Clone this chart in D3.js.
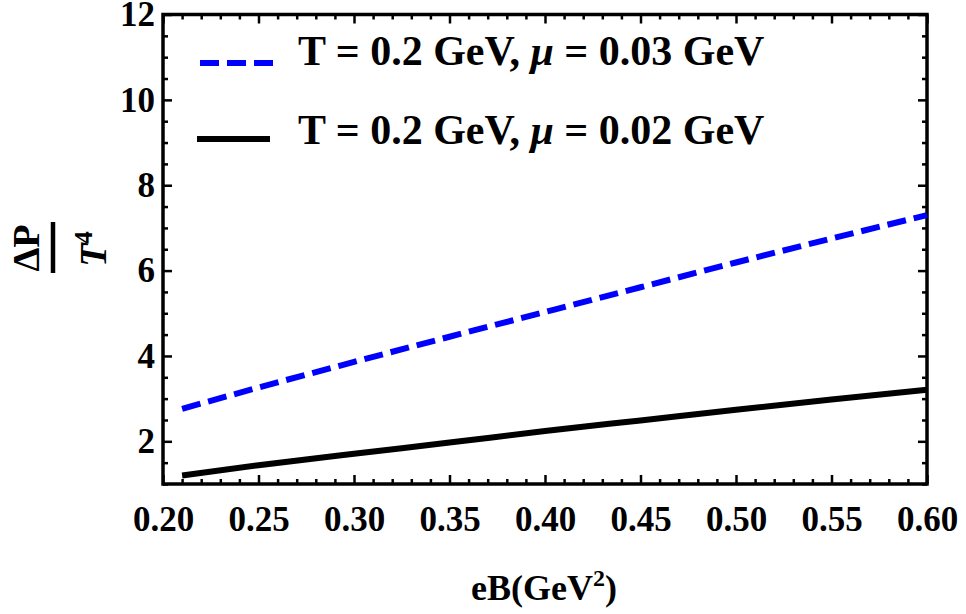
<!DOCTYPE html>
<html>
<head>
<meta charset="utf-8">
<script src="https://cdn.jsdelivr.net/npm/d3@7"></script>
<style>
  body { margin: 0; background: #fff; }
  svg { display: block; }
  text { font-family: 'Liberation Serif', 'Times New Roman', serif; font-weight: bold; fill: #000; }
</style>
</head>
<body>
<div id="chart"></div>
<script>
// eB values (GeV^2)
const eB = [0.21, 0.25, 0.30, 0.35, 0.40, 0.45, 0.50, 0.55, 0.60];
// ΔP / T^4, T = 0.2 GeV, mu = 0.03 GeV
const dpMu003 = [2.76, 3.26, 3.86, 4.45, 5.03, 5.61, 6.19, 6.75, 7.30];
// ΔP / T^4, T = 0.2 GeV, mu = 0.02 GeV
const dpMu002 = [1.20, 1.44, 1.71, 1.97, 2.24, 2.49, 2.74, 2.98, 3.21];

const xMajor = [0.20, 0.25, 0.30, 0.35, 0.40, 0.45, 0.50, 0.55, 0.60];
const yMajor = [2, 4, 6, 8, 10, 12];

const legendLabels = ["0.03", "0.02"];

const serif = "'Liberation Serif', 'Times New Roman', serif";

const width = 966, height = 614;
const margin = {top: 14.5, right: 39, bottom: 130, left: 163};
const innerW = width - margin.left - margin.right;
const innerH = height - margin.top - margin.bottom;

const svg = d3.select("#chart").append("svg")
    .attr("width", width)
    .attr("height", height);

const g = svg.append("g")
    .attr("transform", "translate(" + margin.left + "," + margin.top + ")");

const x = d3.scaleLinear().domain([0.2, 0.6]).range([0, innerW]);
const y = d3.scaleLinear().domain([1, 12]).range([innerH, 0]);

// minor ticks
const xMinor = d3.range(0, 41).map(i => 0.2 + i * 0.01).filter(v => Math.abs(v * 20 - Math.round(v * 20)) > 1e-6);
const yMinor = d3.range(1, 12.01, 0.5).filter(v => v % 2 !== 0);

function styleAxis(sel, fontSize) {
    sel.attr("font-family", null).attr("font-size", null);
    sel.select(".domain").remove();
    sel.selectAll(".tick line").attr("stroke", "#000").attr("stroke-width", 2.5);
    sel.selectAll(".tick text")
        .style("font-family", serif)
        .style("font-weight", "bold")
        .style("font-size", fontSize + "px")
        .attr("fill", "#000");
}

// bottom
g.append("g").attr("transform", "translate(0," + innerH + ")")
    .call(d3.axisBottom(x).tickValues(xMajor).tickFormat(d3.format(".2f")).tickSize(-9).tickPadding(22))
    .call(s => styleAxis(s, 35));
g.append("g").attr("transform", "translate(0," + innerH + ")")
    .call(d3.axisBottom(x).tickValues(xMinor).tickFormat("").tickSize(-5))
    .call(s => styleAxis(s, 35));
// top
g.append("g")
    .call(d3.axisTop(x).tickValues(xMajor).tickFormat("").tickSize(-9))
    .call(s => styleAxis(s, 35));
g.append("g")
    .call(d3.axisTop(x).tickValues(xMinor).tickFormat("").tickSize(-5))
    .call(s => styleAxis(s, 35));
// left
g.append("g")
    .call(d3.axisLeft(y).tickValues(yMajor).tickFormat(d3.format("d")).tickSize(-9).tickPadding(8))
    .call(s => styleAxis(s, 35));
g.append("g")
    .call(d3.axisLeft(y).tickValues(yMinor).tickFormat("").tickSize(-5))
    .call(s => styleAxis(s, 35));
// right
g.append("g").attr("transform", "translate(" + innerW + ",0)")
    .call(d3.axisRight(y).tickValues(yMajor).tickFormat("").tickSize(-9))
    .call(s => styleAxis(s, 35));
g.append("g").attr("transform", "translate(" + innerW + ",0)")
    .call(d3.axisRight(y).tickValues(yMinor).tickFormat("").tickSize(-5))
    .call(s => styleAxis(s, 35));

// frame
g.append("rect")
    .attr("x", 0).attr("y", 0)
    .attr("width", innerW).attr("height", innerH)
    .attr("fill", "none")
    .attr("stroke", "#000")
    .attr("stroke-width", 3.5);

const line = d3.line().x(d => x(d[0])).y(d => y(d[1])).curve(d3.curveMonotoneX);

g.append("path")
    .datum(eB.map((v, i) => [v, dpMu003[i]]))
    .attr("d", line)
    .attr("fill", "none")
    .attr("stroke", "#0000ff")
    .attr("stroke-width", 6)
    .attr("stroke-dasharray", "19,8");

g.append("path")
    .datum(eB.map((v, i) => [v, dpMu002[i]]))
    .attr("d", line)
    .attr("fill", "none")
    .attr("stroke", "#000")
    .attr("stroke-width", 6);

// legend
const legend = svg.append("g");
const legendRows = [
    {mu: legendLabels[0], color: "#0000ff", dash: "19,8", ly: 63, tb: 65, x1: 200, x2: 273},
    {mu: legendLabels[1], color: "#000", dash: null, ly: 139, tb: 144, x1: 197, x2: 270}
];
legendRows.forEach(r => {
    legend.append("line")
        .attr("x1", r.x1).attr("x2", r.x2)
        .attr("y1", r.ly).attr("y2", r.ly)
        .attr("stroke", r.color)
        .attr("stroke-width", 6)
        .attr("stroke-dasharray", r.dash);
    const t = legend.append("text")
        .attr("x", 298).attr("y", r.tb)
        .style("font-family", serif)
        .style("font-size", "42px");
    t.append("tspan").text("T = 0.2 GeV, ");
    t.append("tspan").style("font-style", "italic").text("\u03BC");
    t.append("tspan").text(" = " + r.mu + " GeV");
});

// x label
const xl = svg.append("text")
    .attr("x", 544).attr("y", 600)
    .attr("text-anchor", "middle")
    .style("font-family", serif)
    .style("font-size", "36px");
xl.append("tspan").text("eB(GeV");
xl.append("tspan").attr("dy", -14).style("font-size", "24px").text("2");
xl.append("tspan").attr("dy", 14).text(")");

// y label as fraction
const yl = svg.append("g");
yl.append("text")
    .attr("transform", "translate(39,248) rotate(-90)")
    .attr("text-anchor", "middle")
    .style("font-family", serif)
    .style("font-size", "38px")
    .text("\u0394P");
yl.append("line")
    .attr("x1", 53).attr("x2", 53)
    .attr("y1", 222).attr("y2", 273)
    .attr("stroke", "#000")
    .attr("stroke-width", 4.5);
const tt = yl.append("text")
    .attr("transform", "translate(106,249) rotate(-90)")
    .attr("text-anchor", "middle")
    .style("font-family", serif)
    .style("font-size", "38px");
tt.append("tspan").style("font-style", "italic").text("T");
tt.append("tspan").attr("dy", -14).style("font-size", "25px").text("4");
</script>
</body>
</html>
